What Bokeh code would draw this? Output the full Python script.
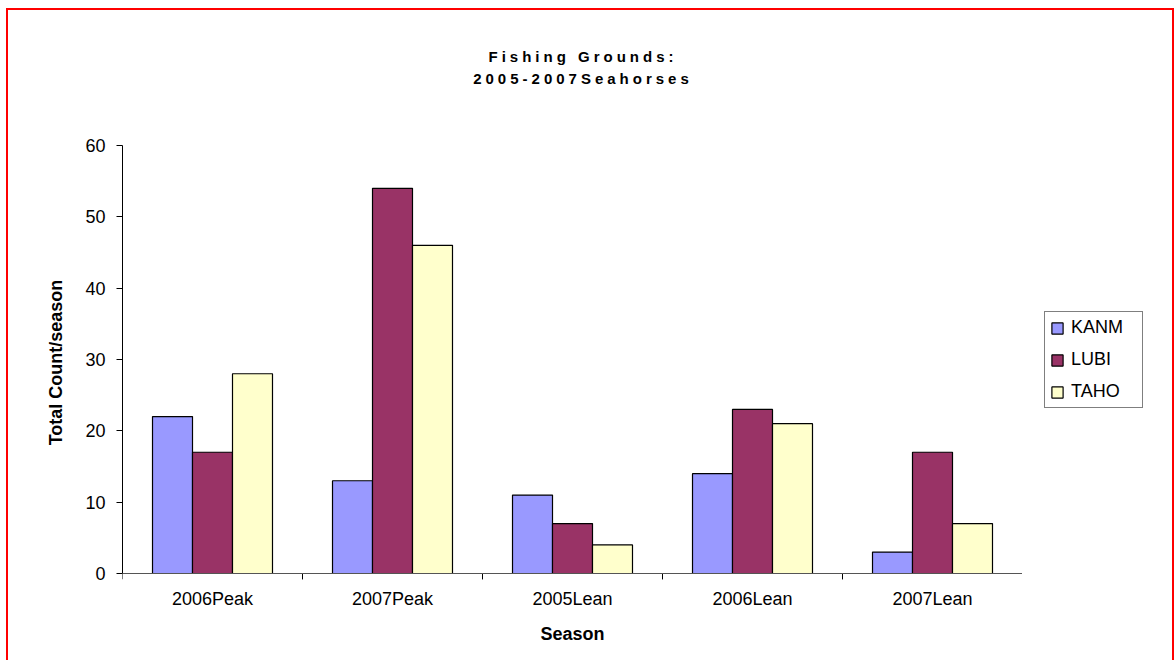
from bokeh.plotting import figure
from bokeh.layouts import row, column
from bokeh.models import (ColumnDataSource, FactorRange, Range1d, FixedTicker,
                          Legend, LegendItem, Span, Div)
from bokeh.transform import dodge
from bokeh.embed import file_html
from bokeh.resources import INLINE

# ---- data ----
seasons = ["2006Peak", "2007Peak", "2005Lean", "2006Lean", "2007Lean"]
kanm = [22, 13, 11, 14, 3]
lubi = [17, 54, 7, 23, 17]
taho = [28, 46, 4, 21, 7]
series_names = ["KANM", "LUBI", "TAHO"]
series_colors = ["#9999FF", "#993366", "#FFFFCC"]
y_ticks = [0, 10, 20, 30, 40, 50, 60]
title_lines = ["Fishing Grounds:", "2005-2007Seahorses"]
x_title = "Season"
y_title = "Total Count/season"

FONT = "Liberation Sans"
TITLE_H = 100
MAIN_W, LEG_W, H = 1014, 150, 550
TICK = 0.84   # room below zero (in value units) for the category-boundary ticks

src = ColumnDataSource(dict(season=seasons, KANM=kanm, LUBI=lubi, TAHO=taho))

# ---- title ----
title_div = Div(
    text=('<div style="display:block;width:%dpx;box-sizing:border-box;'
          'font-family:\'Liberation Sans\';font-weight:bold;font-size:15px;'
          'letter-spacing:4px;line-height:22px;text-align:center;color:black;'
          'padding-top:36px;padding-right:14px;">' % (MAIN_W + LEG_W)
          + "<br>".join(title_lines) + '</div>'),
    width=MAIN_W + LEG_W, height=TITLE_H, margin=0)

# ---- main chart ----
p = figure(width=MAIN_W, height=H,
           x_range=FactorRange(factors=seasons, range_padding=0),
           y_range=Range1d(-TICK, max(y_ticks)),
           output_backend="svg", toolbar_location=None,
           min_border_left=114, min_border_right=0,
           min_border_top=35, min_border_bottom=81, margin=0)
p.outline_line_color = None
p.background_fill_color = "white"
p.border_fill_color = "white"
p.xgrid.visible = False
p.ygrid.visible = False

ya = p.yaxis[0]
ya.ticker = FixedTicker(ticks=y_ticks, minor_ticks=[])
ya.bounds = (0, max(y_ticks))
ya.axis_line_color = "black"
ya.major_tick_line_color = "black"
ya.major_tick_out = 6
ya.major_tick_in = 0
ya.minor_tick_out = 0
ya.minor_tick_in = 0
ya.major_label_text_font = FONT
ya.major_label_text_font_size = "18px"
ya.major_label_text_color = "black"
ya.major_label_standoff = 11
ya.axis_label = y_title
ya.axis_label_text_font = FONT
ya.axis_label_text_font_size = "18px"
ya.axis_label_text_font_style = "bold"
ya.axis_label_text_color = "black"
ya.axis_label_standoff = 16

xa = p.xaxis[0]
xa.axis_line_color = None
xa.major_tick_line_color = None
xa.minor_tick_line_color = None
xa.major_label_text_font = FONT
xa.major_label_text_font_size = "18px"
xa.major_label_text_color = "black"
xa.major_label_standoff = 3
xa.axis_label = x_title
xa.axis_label_text_font = FONT
xa.axis_label_text_font_size = "18px"
xa.axis_label_text_font_style = "bold"
xa.axis_label_text_color = "black"
xa.axis_label_standoff = 12

p.add_layout(Span(location=0, dimension="width", line_color="#555555", line_width=1))
for side in (-0.5, 0.5):
    p.segment(x0=dodge("season", side, range=p.x_range), y0=0,
              x1=dodge("season", side, range=p.x_range), y1=-TICK,
              source=src, line_color="black", line_width=1)

offsets = [-0.2222, 0.0, 0.2222]
for name, col, off in zip(series_names, series_colors, offsets):
    p.vbar(x=dodge("season", off, range=p.x_range), top=name, bottom=0, width=0.2222,
           source=src, fill_color=col, line_color="black", line_width=1.2)

# ---- legend panel (its frame is aligned with the main chart's frame) ----
lf = figure(width=LEG_W, height=H, x_range=Range1d(0, 1), y_range=Range1d(0, 1),
            output_backend="svg", toolbar_location=None,
            x_axis_location=None, y_axis_location=None, min_border=0, margin=0)
lf.outline_line_color = None
lf.background_fill_color = "white"
lf.border_fill_color = "white"
lf.grid.visible = False
swatch_src = ColumnDataSource(dict(x=[float("nan")], top=[float("nan")]))
items = []
for name, col in zip(series_names, series_colors):
    r = lf.vbar(x="x", top="top", width=0.1, source=swatch_src,
                fill_color=col, line_color="black", line_width=1.2)
    items.append(LegendItem(label=name, renderers=[r]))
legend = Legend(items=items, location=(22, 171), margin=0, padding=5,
                spacing=11, glyph_width=14, glyph_height=14, label_height=18,
                label_width=66, label_standoff=7,
                border_line_color="black", border_line_width=1,
                background_fill_color="white", background_fill_alpha=1,
                label_text_font=FONT, label_text_font_size="18px",
                label_text_color="black")
lf.add_layout(legend)

layout = column(title_div, row(p, lf, spacing=0, margin=0), spacing=0)
layout.styles = {"border-left": "2px solid red", "border-top": "2px solid red",
                 "border-right": "2px solid red", "margin-left": "6px",
                 "margin-top": "8px", "background-color": "white"}

open("out.html", "w").write(file_html(layout, INLINE))
